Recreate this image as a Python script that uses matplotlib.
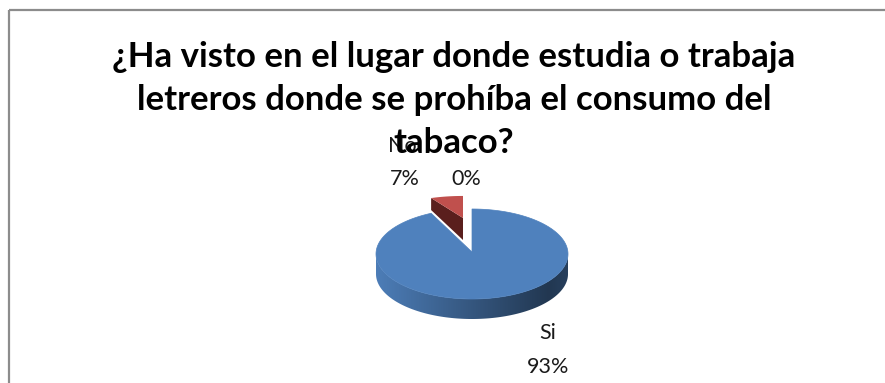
import numpy as np
import matplotlib
matplotlib.use('Agg')
from matplotlib import pyplot as plt
from matplotlib.patches import Polygon, Rectangle

# Survey answers
categories = ['Si', 'No', '']
values = [93, 7, 0]
title = '¿Ha visto en el lugar donde estudia o trabaja\nletreros donde se prohíba el consumo del\ntabaco?'

top_colors = ['#4f81bd', '#c0504d', '#9bbb59']
cut_colors = ['#2c4a70', '#5a1f1d', '#5d7030']

# pie geometry (pixel units)
cx, cy = 472, 254
rx, ry = 96, 45
depth = 20
explode_dx, explode_dy = -9, -36
back_sx, back_sy = 0.78, 0.49   # the exploded slice sits further back


def rim(theta, sx=1.0, sy=1.0, ox=0.0, oy=0.0):
    t = np.radians(theta)
    return np.column_stack((cx + ox + sx * rx * np.cos(t), cy + oy - sy * ry * np.sin(t)))


fig = plt.figure(figsize=(8.85, 3.83), dpi=100)
ax = fig.add_axes([0, 0, 1, 1])
ax.set_xlim(0, 885)
ax.set_ylim(383, 0)
ax.axis('off')

# chart frame, cut off by the right and bottom edges
ax.add_patch(Rectangle((9, 10), 900, 400, fill=False, edgecolor='#8c8c8c', lw=1.6))

# Excel places the first slice clockwise from 12 o'clock
total = float(sum(values))
si_start, si_end = 90 - 360.0 * values[0] / total, 90
no_start, no_end = 90, 90 + 360.0 * values[1] / total

# exploded slice ("No"): cut face then top
tip = np.array([cx + explode_dx, cy + explode_dy])
arc = rim(np.linspace(no_start, no_end, 20), back_sx, back_sy, explode_dx, explode_dy)
edge = arc[-1]
cut = np.array([tip, edge, edge + [0, depth * 0.6], tip + [0, depth * 1.1]])
ax.add_patch(Polygon(cut, closed=True, facecolor=cut_colors[1], edgecolor='none', zorder=2))
ax.add_patch(Polygon(np.vstack((tip, arc)), closed=True, facecolor=top_colors[1],
                     edgecolor='none', zorder=3))

# side wall of the big slice, shaded from left to right
front = rim(np.linspace(180, 360, 200))
wall = np.vstack((front, front[::-1] + [0, depth]))
wall_patch = Polygon(wall, closed=True, facecolor='none', edgecolor='none', zorder=4)
ax.add_patch(wall_patch)
u = np.linspace(0, 1, 256)
f = 0.97 - 0.6 * u + 0.12 * np.clip((u - 0.9) / 0.1, 0, 1)
base = np.array(matplotlib.colors.to_rgb(top_colors[0]))
grad = np.clip(f[None, :, None] * base[None, None, :], 0, 1)
im = ax.imshow(grad, extent=(cx - rx, cx + rx, cy + depth + ry + 2, cy - 2), aspect='auto',
               interpolation='bilinear', zorder=4)
im.set_clip_path(wall_patch)

# top face of "Si"
arc = rim(np.linspace(si_start, si_end, 200) + 360)
ax.add_patch(Polygon(np.vstack(([cx, cy - 2], arc)), closed=True, facecolor=top_colors[0],
                     edgecolor=top_colors[0], lw=0.5, zorder=5))

# labels
pcts = ['%d%%' % round(100 * v / total) for v in values]
lab_font = dict(family=['Lato', 'DejaVu Sans'], fontsize=15.5, color='#1a1a1a', ha='center', zorder=6)
ax.text(548, 333, categories[0], va='center', **lab_font)
ax.text(548, 367, pcts[0], va='center', **lab_font)
ax.text(402, 146, categories[1], va='center', **lab_font)
ax.text(405, 179, pcts[1], va='center', **lab_font)
ax.text(466, 179, pcts[2], va='center', **lab_font)

ax.text(454, 100, title, ha='center', va='center', fontsize=25, fontweight='bold',
        family=['Lato', 'DejaVu Sans'], color='#000000', linespacing=1.42, zorder=7)

fig.savefig('out.png', dpi=100)
